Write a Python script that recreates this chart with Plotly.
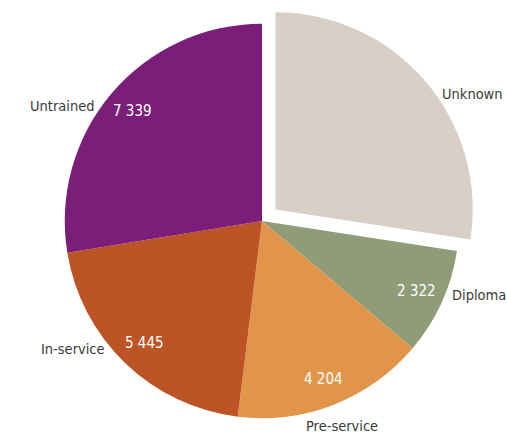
import numpy as np
import plotly.graph_objects as go

# Teacher training status (clockwise from 12 o'clock)
categories = ["Unknown", "Diploma", "Pre-service", "In-service", "Untrained"]
counts = [7300, 2322, 4204, 5445, 7339]
show_value = [False, True, True, True, True]

colors = ["#D8D0C7", "#8F9C77", "#E0954B", "#BC5426", "#7B1E7A"]
pulls = [0.09, 0, 0, 0, 0]

W, H = 507, 436
MARGIN_T = 6
DOM_X = [0.0907, 0.9428]
DOM_Y = [0.0, 1.0]
FONT = "DejaVu Sans Condensed, DejaVu Sans, sans-serif"
VALUE_SIZE = 15
LABEL_SIZE = 14.5
LABEL_COLOR = "#3a3a3a"

fig = go.Figure()
fig.add_trace(go.Pie(
    labels=categories,
    values=counts,
    sort=False,
    direction="clockwise",
    rotation=0,
    pull=pulls,
    domain=dict(x=DOM_X, y=DOM_Y),
    marker=dict(colors=colors, line=dict(width=0)),
    textinfo="none",
    hoverinfo="label+value",
    showlegend=False,
))

# --- text placement, following the same geometry plotly uses for the pie ---
plot_h = H - MARGIN_T
dom_w = W * (DOM_X[1] - DOM_X[0])
dom_h = plot_h * (DOM_Y[1] - DOM_Y[0])
radius = min(dom_w, dom_h) / 2 / (1 + max(pulls))
cx = W * (DOM_X[0] + DOM_X[1]) / 2
cy = MARGIN_T + plot_h * (1 - (DOM_Y[0] + DOM_Y[1]) / 2)


def to_paper(px, py):
    return px / W, (H - py) / plot_h


vals = np.array(counts, dtype=float)
ends = np.cumsum(vals) / vals.sum() * 2 * np.pi
starts = ends - vals / vals.sum() * 2 * np.pi
mids = (starts + ends) / 2

for name, val, show, pull, a in zip(categories, counts, show_value, pulls, mids):
    dx, dy = np.sin(a), -np.cos(a)          # clockwise from 12 o'clock, screen y down
    sx = cx + pull * radius * dx
    sy = cy + pull * radius * dy

    # value inside the slice
    vx = sx + 0.86 * radius * dx
    vy = sy + 0.86 * radius * dy
    if show:
        x, y = to_paper(vx, vy)
        fig.add_annotation(
            x=x, y=y, xref="paper", yref="paper", showarrow=False,
            xanchor="center", yanchor="middle",
            text=f"{val:,}".replace(",", " "),
            font=dict(family=FONT, size=VALUE_SIZE, color="white"),
        )

    # category name just outside the rim
    if abs(dy) > 0.85:
        # bottom / top slices: name sits under (or over) the rim
        ly = sy + np.sign(dy) * np.sqrt(max(radius**2 - (vx - sx) ** 2, 0)) + np.sign(dy) * 18
        x, y = to_paper(vx + 18, ly)
        fig.add_annotation(
            x=x, y=y, xref="paper", yref="paper", showarrow=False,
            xanchor="center", yanchor="middle", text=name,
            font=dict(family=FONT, size=LABEL_SIZE, color=LABEL_COLOR),
        )
    else:
        ly = sy + 0.9 * radius * dy
        rim = np.sqrt(max(radius**2 - (ly - sy) ** 2, 0))
        lx = sx + np.sign(dx) * (rim + 5)
        x, y = to_paper(lx, ly)
        fig.add_annotation(
            x=x, y=y, xref="paper", yref="paper", showarrow=False,
            xanchor="left" if dx > 0 else "right", yanchor="middle", text=name,
            font=dict(family=FONT, size=LABEL_SIZE, color=LABEL_COLOR),
        )

fig.update_layout(
    width=W,
    height=H,
    margin=dict(l=0, r=0, t=MARGIN_T, b=0),
    paper_bgcolor="white",
    showlegend=False,
)

fig.write_html("out.html")
